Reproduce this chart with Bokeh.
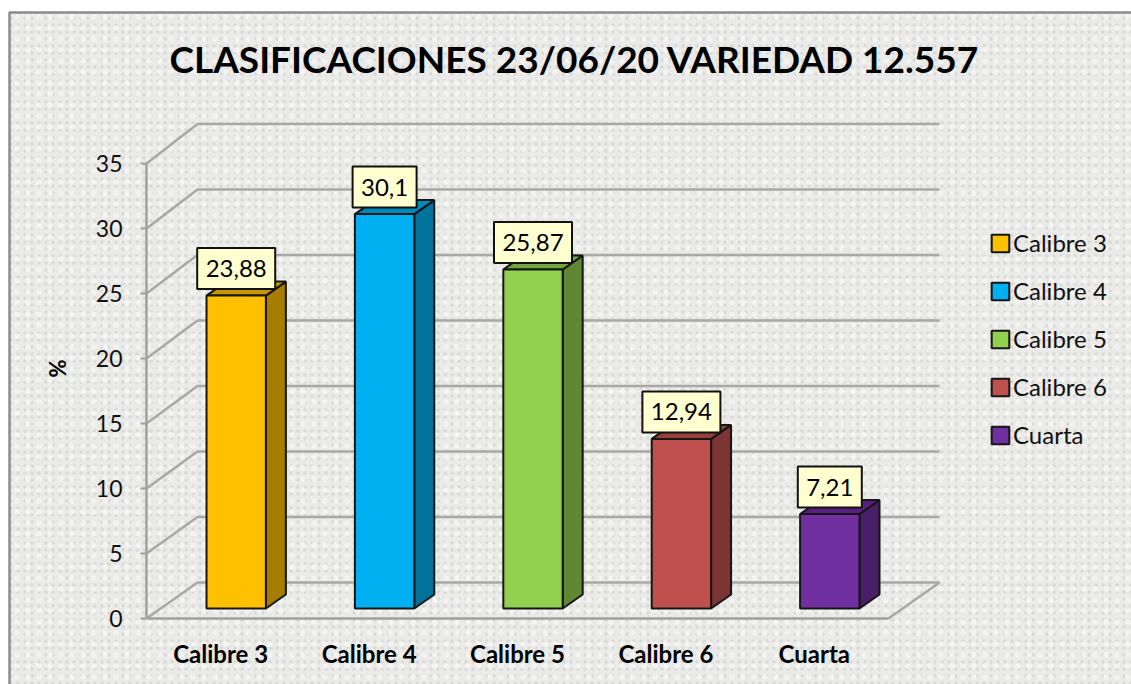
from bokeh.plotting import figure
from bokeh.models import ColumnDataSource, FixedTicker, Legend, LegendItem, LinearAxis, Range1d
from bokeh.core.properties import value
from bokeh.embed import file_html
from bokeh.resources import INLINE

TITLE = "CLASIFICACIONES 23/06/20 VARIEDAD 12.557"
Y_LABEL = "%"
categories = ["Calibre 3", "Calibre 4", "Calibre 5", "Calibre 6", "Cuarta"]
values = [23.88, 30.1, 25.87, 12.94, 7.21]
y_ticks = [0, 5, 10, 15, 20, 25, 30, 35]
front_colors = ["#ffc000", "#00b0f0", "#92d050", "#c0504d", "#7030a0"]
side_colors = ["#a67d00", "#00729c", "#5f8734", "#7d3432", "#491f68"]
top_colors = ["#c89700", "#0088bb", "#74a640", "#963f3c", "#581f80"]

FONT = "Lato"
W, H = 1131, 684
PX_X = 148.4   # pixels per category
PX_Y = 13.0    # pixels per y unit
X0, Y0 = 146, 618   # pixel position of the axes' origin

p = figure(width=W, height=H, output_backend="svg", toolbar_location=None,
           x_range=Range1d(0.5 - X0 / PX_X, 0.5 + (W - X0) / PX_X),
           y_range=Range1d(-(H - Y0) / PX_Y, Y0 / PX_Y),
           min_border=0, outline_line_color=None, background_fill_color="white",
           border_fill_color="white", x_axis_type=None, y_axis_type=None)
p.grid.visible = False

# chart area: it runs off the right and bottom edges of the page, so only two sides of its border show
AREA = dict(left=[0.5 + (9 - X0) / PX_X], right=[0.5 + (W + 20 - X0) / PX_X],
            top=[(Y0 - 12) / PX_Y], bottom=[(Y0 - H - 20) / PX_Y])
p.quad(**AREA, fill_color="#eaeae8", line_color="#8c8c8c", line_width=2.5,
       hatch_pattern="dot", hatch_color="#d4d4d2", hatch_scale=7, hatch_alpha=0.8, level="underlay")
p.quad(**AREA, fill_alpha=0, line_alpha=0,
       hatch_pattern="dot", hatch_color="#f6f6f4", hatch_scale=11, hatch_alpha=0.8, level="underlay")

# walls: every gridline runs from the front axis to the back wall
BACK_DX = 51 / PX_X
BACK_SHIFT = 36 / PX_Y
BACK_K = 1.0077
GRID_END = 5.5 + 51 / PX_X
grid_xs, grid_ys = [], []
for t in y_ticks:
    back = BACK_SHIFT + t * BACK_K
    grid_xs.append([0.5, 0.5 + BACK_DX, GRID_END])
    grid_ys.append([t, back, back])
grid_xs.append([5.5, GRID_END])
grid_ys.append([0, BACK_SHIFT])
p.multi_line(grid_xs, grid_ys, line_color="#a8a8a8", line_width=2.5)

# axes
yaxis = LinearAxis(fixed_location=0.5, bounds=(0, 35), ticker=FixedTicker(ticks=y_ticks),
                   axis_line_color="#a0a0a0", axis_line_width=2.5,
                   major_tick_line_color="#a0a0a0", major_tick_line_width=2, major_tick_in=0, major_tick_out=6,
                   minor_tick_line_color=None, major_label_standoff=18,
                   major_label_text_font=FONT, major_label_text_font_size="23px", major_label_text_color="#111111")
p.add_layout(yaxis, "left")
positions = list(range(1, len(categories) + 1))
xaxis = LinearAxis(fixed_location=0, bounds=(0.5, 5.5), ticker=FixedTicker(ticks=positions),
                   major_label_overrides={i: c for i, c in zip(positions, categories)},
                   axis_line_color="#a0a0a0", axis_line_width=2.5,
                   major_tick_line_color=None, minor_tick_line_color=None, major_tick_in=0, major_tick_out=0,
                   major_label_standoff=20,
                   major_label_text_font=FONT, major_label_text_font_style="bold",
                   major_label_text_font_size="24px", major_label_text_color="#000000")
p.add_layout(xaxis, "below")

# bars with their 3-D faces; they stand midway along the floor, where the perspective scale is slightly larger
BAR_SHIFT = 15.5 / PX_X
BAR_HALF = 0.2
BASE = 10 / PX_Y
BAR_K = 1.008
DX = 20 / PX_X
DY = 14 / PX_Y
LINE = "#161616"
xc = [i + BAR_SHIFT for i in positions]
tops = [BASE + v * BAR_K for v in values]

p.patches([[x + BAR_HALF, x + BAR_HALF + DX, x + BAR_HALF + DX, x + BAR_HALF] for x in xc],
          [[BASE, BASE + DY, t + DY, t] for t in tops],
          fill_color=side_colors, line_color=LINE, line_width=2)
p.patches([[x - BAR_HALF, x - BAR_HALF + DX, x + BAR_HALF + DX, x + BAR_HALF] for x in xc],
          [[t, t + DY, t + DY, t] for t in tops],
          fill_color=top_colors, line_color=LINE, line_width=2)

items = []
for x, t, name, col in zip(xc, tops, categories, front_colors):
    r = p.vbar(x=[x], top=[t], bottom=[BASE], width=2 * BAR_HALF, fill_color=col, line_color=LINE, line_width=2)
    items.append(LegendItem(label=name, renderers=[r]))

legend = Legend(items=items, location=(989, 235), orientation="vertical", padding=0, margin=0, spacing=19,
                glyph_width=22, glyph_height=22, label_standoff=2, label_height=21,
                label_text_font=FONT, label_text_font_size="24px", label_text_color="#111111",
                background_fill_alpha=0, border_line_color=None)
p.add_layout(legend, "center")

# data labels
label_src = ColumnDataSource(dict(
    x=xc,
    y=[t + 27 / PX_Y for t in tops],
    w=[8 + 14 * len(str(v).replace(".", ",")) for v in values],
    text=[str(v).replace(".", ",") for v in values],
))
p.rect(x="x", y="y", width="w", height=41, width_units="screen", height_units="screen", source=label_src,
       fill_color="#ffffd0", line_color="#111111", line_width=2)
p.text(x="x", y="y", text="text", source=label_src, text_align="center", text_baseline="middle",
       text_font=value(FONT), text_font_size="24px", text_color="#000000")

# title and axis caption
p.text(x=[0.5 + (574 - X0) / PX_X], y=[(Y0 - 58) / PX_Y], text=[TITLE], text_align="center", text_baseline="middle",
       text_font=value(FONT), text_font_style="bold", text_font_size="37px", text_color="#000000")
p.text(x=[0.5 + (57 - X0) / PX_X], y=[(Y0 - 368) / PX_Y], text=[Y_LABEL], angle=1.5708, angle_units="rad",
       text_align="center", text_baseline="middle",
       text_font=value(FONT), text_font_style="bold", text_font_size="22px", text_color="#000000")

open("out.html", "w").write(file_html(p, INLINE))
